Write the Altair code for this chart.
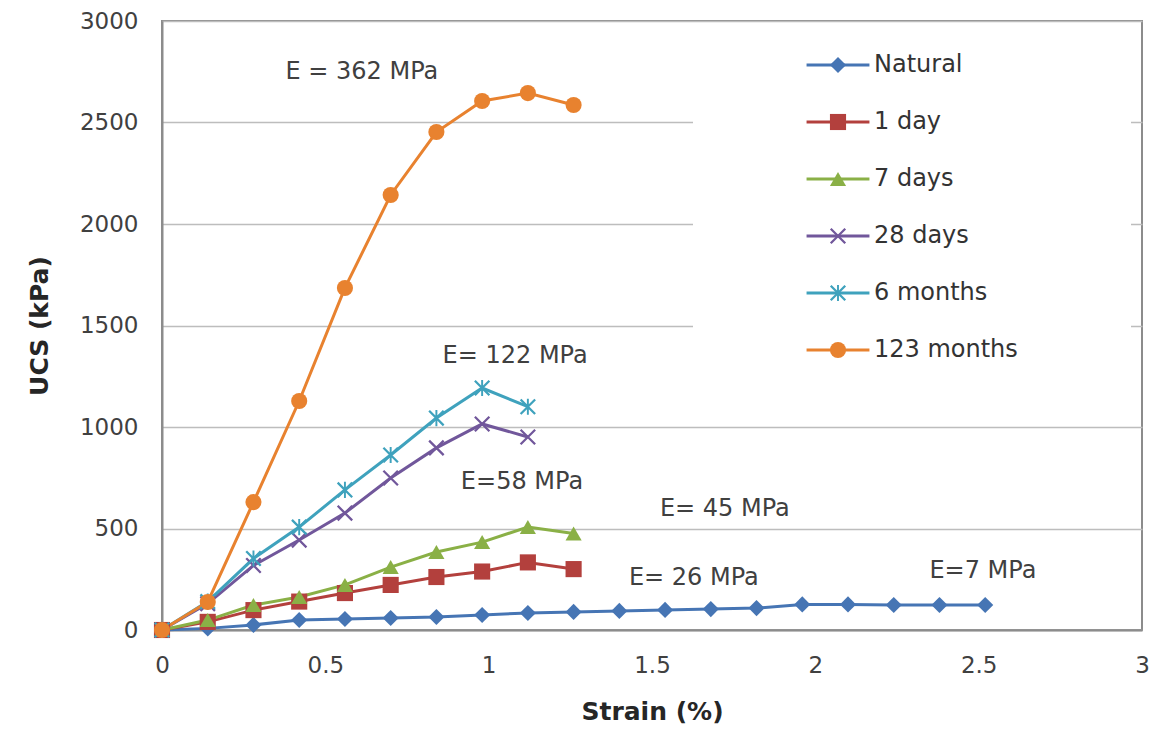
import altair as alt
import pandas as pd

# ---------------- data ----------------
strain = [0.00, 0.14, 0.28, 0.42, 0.56, 0.70, 0.84, 0.98, 1.12, 1.26,
          1.40, 1.54, 1.68, 1.82, 1.96, 2.10, 2.24, 2.38, 2.52]

natural = [0, 8, 25, 49, 54, 59, 64, 74, 84, 89, 94, 99, 103, 108, 126, 126, 123, 123, 123]
one_day = [0, 40, 98, 140, 182, 222, 261, 288, 333, 300]
seven_days = [0, 49, 123, 163, 222, 310, 384, 433, 507, 475]
twenty_eight_days = [0, 130, 318, 443, 576, 749, 897, 1015, 951]
six_months = [0, 140, 352, 507, 690, 862, 1044, 1192, 1100]
months_123 = [0, 138, 630, 1128, 1685, 2143, 2453, 2606, 2645, 2586]

series_names = ["Natural", "1 day", "7 days", "28 days", "6 months", "123 months"]
series_values = [natural, one_day, seven_days, twenty_eight_days, six_months, months_123]
series_colors = ["#4675B4", "#B3403D", "#8AB046", "#71579B", "#3FA2BD", "#E8822F"]

ann_text = ["E = 362 MPa", "E= 122 MPa", "E=58 MPa", "E= 45 MPa", "E= 26 MPa", "E=7 MPa"]
ann_x = [0.612, 1.081, 1.102, 1.723, 1.628, 2.513]
ann_y = [2749, 1350, 729, 596, 256, 291]

x_ticks = [0, 0.5, 1, 1.5, 2, 2.5, 3]
y_ticks = [0, 500, 1000, 1500, 2000, 2500, 3000]

# marker shapes (X and asterisk built as filled bars)
X_PATH = "M-1,-0.8L-0.8,-1L1,0.8L0.8,1Z M1,-0.8L-0.8,1L-1,0.8L0.8,-1Z"
STAR_PATH = X_PATH + " M-0.12,-1L0.12,-1L0.12,1L-0.12,1Z"
series_shapes = ["diamond", "square", "triangle-up", X_PATH, STAR_PATH, "circle"]
LINE_SYMBOL = "M-3.9,0H3.9"

rows = []
for name, vals in zip(series_names, series_values):
    for i, v in enumerate(vals):
        rows.append({"series": name, "series_b": name, "idx": i,
                     "strain": strain[i], "ucs": v})
df = pd.DataFrame(rows)
ann_df = pd.DataFrame({"text": ann_text, "x": ann_x, "y": ann_y})

FONT = "DejaVu Sans"
LEG_FS = 24
LEG_PAD = 22
LEG_ROWPAD = 33
MSIZE = 260
LEG_X = 826 - 162 - LEG_PAD
LEG_Y = 53 - 21 - LEG_PAD
LEG_LABOFF = 24

x_scale = alt.Scale(domain=[0, 3], nice=False, zero=False)
y_scale = alt.Scale(domain=[0, 3000], nice=False)

x_enc = alt.X("strain:Q", scale=x_scale,
              axis=alt.Axis(values=x_ticks, format="~g", title="Strain (%)",
                            grid=False, ticks=False, labelPadding=24,
                            titlePadding=22, labelFlush=False))
y_enc = alt.Y("ucs:Q", scale=y_scale,
              axis=alt.Axis(values=y_ticks, format="d", title="UCS (kPa)", grid=True,
                            ticks=False, labelPadding=24, titlePadding=27))

common_leg = dict(orient="none", legendX=LEG_X, legendY=LEG_Y, title=None,
                  symbolSize=MSIZE, labelFont=FONT, labelFontSize=LEG_FS,
                  labelOffset=LEG_LABOFF, rowPadding=LEG_ROWPAD, padding=LEG_PAD,
                  labelLimit=400)

# white frame of the legend (covers the gridlines behind it, as in the reference)
legend_frame = alt.Chart(pd.DataFrame({"k": [0]})).mark_rect(
    fill="white", stroke=None
).encode(x=alt.value(531), x2=alt.value(969), y=alt.value(4), y2=alt.value(364))

lines = alt.Chart(df).mark_line(strokeWidth=3).encode(
    x=x_enc, y=y_enc, order="idx:Q",
    color=alt.Color("series:N",
                    scale=alt.Scale(domain=series_names, range=series_colors),
                    sort=series_names,
                    legend=alt.Legend(symbolType=LINE_SYMBOL, symbolStrokeWidth=3,
                                      labelColor="#333333", **common_leg)),
)

leg_b = dict(symbolOpacity=1, labelColor="transparent", **common_leg)
points = alt.Chart(df).mark_point(filled=True, opacity=1, size=MSIZE).encode(
    x=alt.X("strain:Q", scale=x_scale), y=alt.Y("ucs:Q", scale=y_scale),
    color=alt.Color("series_b:N",
                    scale=alt.Scale(domain=series_names, range=series_colors),
                    sort=series_names, legend=alt.Legend(**leg_b)),
    shape=alt.Shape("series_b:N",
                    scale=alt.Scale(domain=series_names, range=series_shapes),
                    sort=series_names, legend=alt.Legend(**leg_b)),
)

labels = alt.Chart(ann_df).mark_text(font=FONT, fontSize=24, color="#404040").encode(
    x=alt.X("x:Q", scale=x_scale), y=alt.Y("y:Q", scale=y_scale), text="text:N"
)

chart = alt.layer(legend_frame, lines, points, labels).resolve_scale(
    color="independent", shape="independent"
).properties(
    width=980, height=609,
    padding={"left": 162, "top": 21, "right": 11, "bottom": 99},
    autosize=alt.AutoSizeParams(type="none"),
    background="white",
).configure_view(
    stroke="#8C8C8C", strokeWidth=2
).configure_axis(
    domainColor="#8C8C8C", domainWidth=2, gridColor="#BDBDBD", gridWidth=1.5,
    labelFont=FONT, labelFontSize=23, labelColor="#404040",
    titleFont=FONT, titleFontSize=25, titleFontWeight="bold", titleColor="#262626",
)

chart.save("out.html", embed_options={"renderer": "svg", "actions": False})
